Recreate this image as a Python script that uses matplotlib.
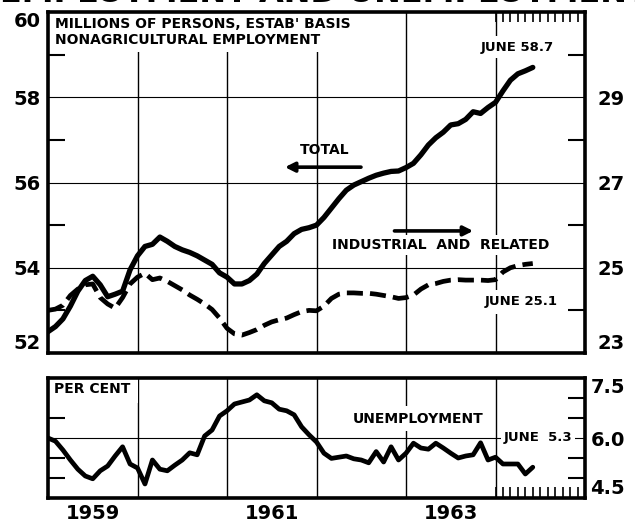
import numpy as np
import matplotlib
matplotlib.use("Agg")
import matplotlib.pyplot as plt

plt.rcParams['font.family'] = ['DejaVu Sans']

# ---------------- data (monthly, Jan 1959 - Jun 1964) ----------------
start_year = 1959
total = [52.50, 52.62, 52.80, 53.10, 53.45, 53.70, 53.80, 53.60, 53.32, 53.38, 53.45, 53.95,
         54.28, 54.50, 54.55, 54.72, 54.62, 54.50, 54.42, 54.36, 54.28, 54.18, 54.08, 53.88,
         53.78, 53.62, 53.62, 53.70, 53.85, 54.10, 54.30, 54.50, 54.62, 54.80, 54.90, 54.94,
         55.00, 55.18, 55.40, 55.62, 55.82, 55.94, 56.02, 56.10, 56.17, 56.22, 56.26, 56.27,
         56.35, 56.45, 56.65, 56.88, 57.05, 57.18, 57.35, 57.38, 57.48, 57.66, 57.62, 57.76,
         57.88, 58.15, 58.40, 58.55, 58.62, 58.70]
industrial = [24.00, 24.03, 24.12, 24.35, 24.50, 24.60, 24.62, 24.30, 24.15, 24.05, 24.30, 24.62,
              24.78, 24.87, 24.72, 24.76, 24.68, 24.58, 24.48, 24.36, 24.26, 24.15, 24.02, 23.82,
              23.58, 23.45, 23.42, 23.48, 23.55, 23.65, 23.73, 23.78, 23.82, 23.90, 23.97, 24.00,
              23.99, 24.10, 24.28, 24.38, 24.41, 24.41, 24.40, 24.40, 24.38, 24.35, 24.32, 24.28,
              24.30, 24.36, 24.50, 24.60, 24.63, 24.68, 24.71, 24.72, 24.71, 24.71, 24.71, 24.70,
              24.72, 24.90, 25.00, 25.05, 25.08, 25.10]
unemployment = [6.00, 5.92, 5.70, 5.45, 5.22, 5.05, 4.98, 5.18, 5.30, 5.55, 5.78, 5.35,
                5.25, 4.85, 5.45, 5.22, 5.18, 5.32, 5.45, 5.63, 5.58, 6.05, 6.20, 6.55,
                6.68, 6.85, 6.90, 6.95, 7.08, 6.93, 6.88, 6.72, 6.68, 6.58, 6.28, 6.08,
                5.90, 5.62, 5.49, 5.52, 5.55, 5.48, 5.45, 5.38, 5.66, 5.40, 5.78, 5.45,
                5.62, 5.87, 5.75, 5.72, 5.87, 5.75, 5.62, 5.50, 5.55, 5.58, 5.88, 5.45,
                5.52, 5.35, 5.35, 5.35, 5.10, 5.27]

left_ticks = [52, 54, 56, 58, 60]
right_ticks = [23, 25, 27, 29]
unemp_ticks = [4.5, 6.0, 7.5]
year_labels = ['1959', '1961', '1963']
year_bounds = [1960, 1961, 1962, 1963, 1964]

x = start_year + np.arange(len(total)) / 12.0

W, H = 635, 522
fig = plt.figure(figsize=(W / 100, H / 100), dpi=100)

def axes_rect(l, t, r, b):
    return [l / W, 1 - b / H, (r - l) / W, (b - t) / H]

BOLD = dict(fontweight='bold', color='black')
WHITE = dict(facecolor='white', edgecolor='none')

# ---------------- top panel ----------------
ax = fig.add_axes(axes_rect(48, 12, 585, 353))
ax.set_xlim(1959, 1965)
ax.set_ylim(52, 60)
for s in ax.spines.values():
    s.set_linewidth(2.6)
for yb in year_bounds:
    ax.axvline(yb, color='black', lw=1.0, zorder=1)
for v in left_ticks[1:-1]:
    ax.axhline(v, color='black', lw=0.8, zorder=1)

ax.set_yticks(left_ticks)
ax.set_yticklabels([str(v) for v in left_ticks], fontsize=14, fontweight='bold')
ax.tick_params(axis='y', which='major', length=0, pad=5)
ax.set_yticks([53, 55, 57, 59], minor=True)
ax.tick_params(axis='y', which='minor', direction='in', length=12, width=1.5, left=True)
ax.set_xticks([])
ax.set_xticks(1964 + np.arange(12) / 12.0, minor=True)
ax.tick_params(axis='x', which='minor', direction='in', length=7, width=1.2,
               top=True, bottom=False)
ylabs = ax.get_yticklabels()
ylabs[0].set_va('bottom')
ylabs[-1].set_va('top')

ax.plot(x, total, color='black', lw=3.8, solid_capstyle='round', zorder=5)

ax2 = ax.twinx()
ax2.set_ylim(23, 31)
ax2.set_yticks(right_ticks)
ax2.set_yticklabels([str(v) for v in right_ticks], fontsize=14, fontweight='bold')
ax2.tick_params(axis='y', which='major', length=0, pad=9)
ax2.set_yticks([24, 26, 28, 30], minor=True)
ax2.tick_params(axis='y', which='minor', direction='in', length=12, width=1.5)
for s in ax2.spines.values():
    s.set_visible(False)
r2 = ax2.get_yticklabels()
r2[0].set_va('bottom')
ax2.plot(x, industrial, color='black', lw=3.4, linestyle=(0, (3.4, 1.5)), zorder=4)

ax.text(0.013, 0.985, "MILLIONS OF PERSONS, ESTAB' BASIS\nNONAGRICULTURAL EMPLOYMENT",
        transform=ax.transAxes, ha='left', va='top', fontsize=10, linespacing=1.15,
        bbox=dict(pad=4, **WHITE), zorder=2, **BOLD)
ax.text(0.805, 0.897, "JUNE 58.7", transform=ax.transAxes, ha='left', va='center',
        fontsize=9.5, bbox=dict(pad=3, **WHITE), zorder=2, **BOLD)
ax.text(0.515, 0.595, "TOTAL", transform=ax.transAxes, ha='center', va='center',
        fontsize=10, zorder=2, **BOLD)
ax.annotate('', xy=(0.436, 0.545), xytext=(0.588, 0.545), xycoords='axes fraction',
            arrowprops=dict(arrowstyle='-|>', lw=2.6, color='black', mutation_scale=14),
            zorder=3)
ax.text(0.732, 0.317, "INDUSTRIAL  AND  RELATED", transform=ax.transAxes, ha='center',
        va='center', fontsize=10, bbox=dict(pad=2, **WHITE), zorder=2, **BOLD)
ax.annotate('', xy=(0.797, 0.358), xytext=(0.640, 0.358), xycoords='axes fraction',
            arrowprops=dict(arrowstyle='-|>', lw=2.6, color='black', mutation_scale=14),
            zorder=3)
ax.text(0.814, 0.150, "JUNE 25.1", transform=ax.transAxes, ha='left', va='center',
        fontsize=9.5, bbox=dict(pad=4, **WHITE), zorder=2, **BOLD)

# ---------------- bottom panel ----------------
bx = fig.add_axes(axes_rect(48, 378, 585, 498))
bx.set_xlim(1959, 1965)
bx.set_ylim(4.5, 7.5)
for s in bx.spines.values():
    s.set_linewidth(2.6)
for yb in year_bounds:
    bx.axvline(yb, color='black', lw=1.0, zorder=1)
bx.axhline(6.0, color='black', lw=0.8, zorder=1)

bx.yaxis.tick_right()
bx.set_yticks(unemp_ticks)
bx.set_yticklabels([f"{v:.1f}" for v in unemp_ticks], fontsize=14, fontweight='bold')
bx.tick_params(axis='y', which='major', length=0, pad=4)
bx.set_yticks([5.0, 5.5, 6.5, 7.0], minor=True)
bx.tick_params(axis='y', which='minor', direction='in', length=12, width=1.5,
               left=True, right=True)
bl = bx.get_yticklabels()
bl[0].set_va('bottom')
bl[-1].set_va('top')
bx.set_xticks([1959.5, 1961.5, 1963.5])
bx.set_xticklabels(year_labels, fontsize=14, fontweight='bold')
bx.tick_params(axis='x', which='major', length=0, pad=4)
bx.set_xticks(1964 + np.arange(12) / 12.0, minor=True)
bx.tick_params(axis='x', which='minor', direction='in', length=8, width=1.2)

bx.plot(x, unemployment, color='black', lw=3.4, solid_capstyle='round', zorder=5)

bx.text(0.012, 0.905, "PER CENT", transform=bx.transAxes, ha='left', va='center',
        fontsize=10, bbox=dict(pad=5, **WHITE), zorder=2, **BOLD)
bx.text(0.690, 0.660, "UNEMPLOYMENT", transform=bx.transAxes, ha='center', va='center',
        fontsize=10, bbox=dict(pad=4, **WHITE), zorder=2, **BOLD)
bx.text(0.848, 0.50, "JUNE  5.3", transform=bx.transAxes, ha='left', va='center',
        fontsize=9.5, bbox=dict(pad=2, **WHITE), zorder=2, **BOLD)

# cut-off heading at the very top (only its lower edge shows)
fig.text(0.0, 1 - 2 / H, "EMPLOYMENT AND UNEMPLOYMENT", ha='left', va='baseline',
         fontsize=23, **BOLD)

fig.savefig("out.png", dpi=100)
